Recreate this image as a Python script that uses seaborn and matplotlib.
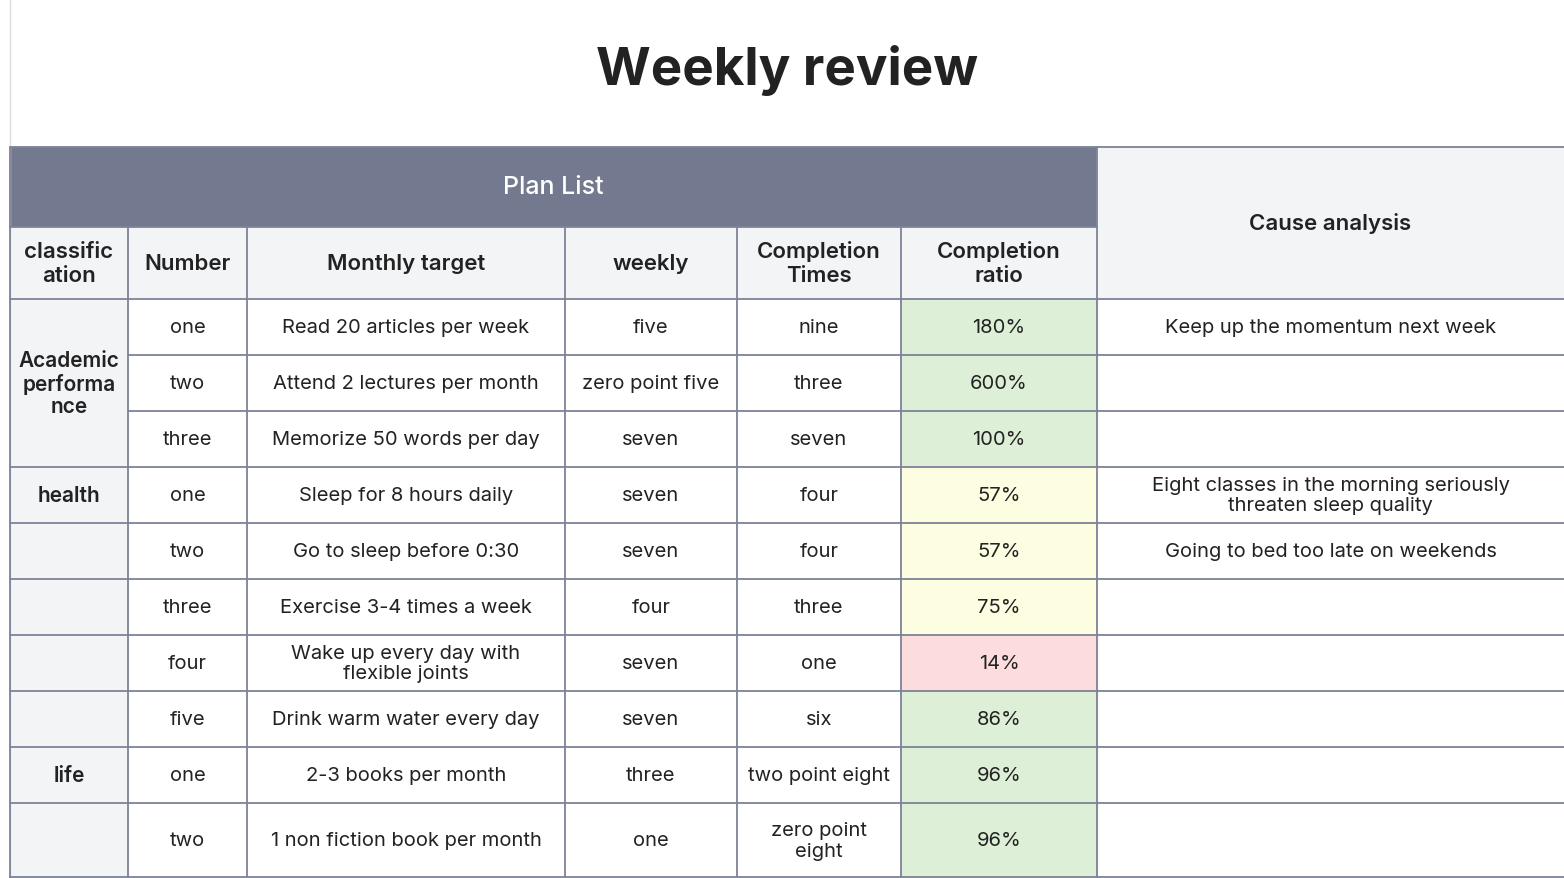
import matplotlib
matplotlib.use("Agg")
import matplotlib.pyplot as plt
import seaborn as sns
from matplotlib.patches import Rectangle

sns.set_theme(style="white")
plt.rcParams['font.family'] = ['Inter', 'DejaVu Sans']

title = "Weekly review"
group_title = "Plan List"
cause_title = "Cause analysis"
headers = ["classific\nation", "Number", "Monthly target", "weekly", "Completion\nTimes", "Completion\nratio"]
classification = ["Academic\nperforma\nnce", None, None, "health", "", "", "", "", "life", ""]
numbers = ["one", "two", "three", "one", "two", "three", "four", "five", "one", "two"]
targets = ["Read 20 articles per week", "Attend 2 lectures per month", "Memorize 50 words per day",
           "Sleep for 8 hours daily", "Go to sleep before 0:30", "Exercise 3-4 times a week",
           "Wake up every day with\nflexible joints", "Drink warm water every day",
           "2-3 books per month", "1 non fiction book per month"]
weekly = ["five", "zero point five", "seven", "seven", "seven", "four", "seven", "seven", "three", "one"]
times = ["nine", "three", "seven", "four", "four", "three", "one", "six", "two point eight", "zero point\neight"]
ratio = [180, 600, 100, 57, 57, 75, 14, 86, 96, 96]
causes = ["Keep up the momentum next week", "", "",
          "Eight classes in the morning seriously\nthreaten sleep quality",
          "Going to bed too late on weekends", "", "", "", "", ""]

xs = [10, 128, 247, 565, 737, 901, 1097, 1564]
row_y = [300, 356, 412, 468, 524, 580, 636, 692, 748, 804, 879]
line_c = "#7d8296"
head_bg = "#f3f4f6"

def ratio_color(r):
    if r < 50: return "#fcdcdc"
    if r < 80: return "#fdfde1"
    return "#ddefd6"

fig = plt.figure(figsize=(15.64, 8.79), dpi=100)
ax = fig.add_axes([0, 0, 1, 1])
ax.set_xlim(0, 1564); ax.set_ylim(879, 0); ax.axis("off")

ax.text(787, 70, title, ha="center", va="center", fontsize=38, fontweight="bold", color="#222")
# header band
ax.add_patch(Rectangle((10, 148), 1087, 80, color="#737a8f", zorder=0))
ax.text(553, 188, group_title, ha="center", va="center", fontsize=18, color="white", fontweight="medium")
ax.add_patch(Rectangle((1097, 148), 467, 152, color=head_bg, zorder=0))
ax.text(1330, 224, cause_title, ha="center", va="center", fontsize=16, fontweight="semibold", color="#222")
ax.add_patch(Rectangle((10, 228), 1087, 72, color=head_bg, zorder=0))
for i, h in enumerate(headers):
    ax.text((xs[i] + xs[i+1]) / 2, 264, h, ha="center", va="center", fontsize=16,
            fontweight="semibold", color="#222", linespacing=1.25)
ax.add_patch(Rectangle((10, 300), 118, 579, color=head_bg, zorder=0))

for r in range(len(numbers)):
    y0, y1 = row_y[r], row_y[r+1]
    yc = (y0 + y1) / 2
    ax.add_patch(Rectangle((xs[5], y0), xs[6] - xs[5], y1 - y0, color=ratio_color(ratio[r]), zorder=0))
    if classification[r]:
        if r == 0:
            ax.text(69, (row_y[0] + row_y[3]) / 2, classification[r], ha="center", va="center",
                    fontsize=15, fontweight="semibold", color="#222", linespacing=1.15)
        else:
            ax.text(69, yc, classification[r], ha="center", va="center", fontsize=15,
                    fontweight="semibold", color="#222")
    vals = [numbers[r], targets[r], weekly[r], times[r], f"{ratio[r]}%", causes[r]]
    for j, v in enumerate(vals):
        ax.text((xs[j+1] + xs[j+2]) / 2, yc, v, ha="center", va="center", fontsize=14.5,
                color="#222", linespacing=1.15)

# lines
lw = 1.3
ax.plot([10, 10], [0, 879], color="#dcdcdc", lw=1)
ax.plot([10, 1564], [148, 148], color=line_c, lw=lw)
ax.plot([10, 1097], [228, 228], color=line_c, lw=lw)
for k, y in enumerate(row_y[:-1]):
    x_start = 128 if k in (1, 2) else 10
    ax.plot([x_start, 1564], [y, y], color=line_c, lw=lw)
ax.plot([10, 1564], [878, 878], color=line_c, lw=lw)
for i, x in enumerate(xs[:-1]):
    y_top = 148 if i in (0, 6) else 228
    ax.plot([x, x], [y_top, 879], color=line_c, lw=lw)

fig.savefig("out.png", dpi=100)
